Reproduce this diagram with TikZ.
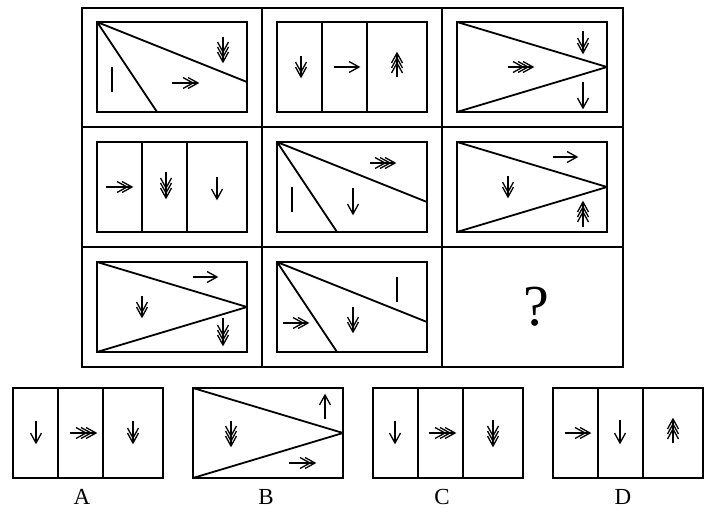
\documentclass[tikz,border=0pt]{standalone}
\usepackage{fontspec}
\setmainfont{Liberation Serif}
\begin{document}
\begin{tikzpicture}[x=1pt,y=-1pt,
  box/.style={line width=1.8pt},
  grd/.style={line width=1.8pt},
  arw/.style={line width=1.3pt,line join=miter},
  lbl/.style={font=\fontsize{23}{23}\selectfont,anchor=base,inner sep=0pt}]
\useasboundingbox (0,0) rectangle (725,508);
\newcommand\ARh[4]{%
  \draw[arw] (#1,#3) -- (#2,#3);
  \foreach \k in {1,...,#4}{\draw[arw] ({#2-(\k-1)*5-10},{#3-5.5}) -- ({#2-(\k-1)*5},#3) -- ({#2-(\k-1)*5-10},{#3+5.5});}}
\newcommand\ARv[4]{%
  \pgfmathsetmacro\sg{ifthenelse(#3>#2,1,-1)}%
  \draw[arw] (#1,#2) -- (#1,#3);
  \foreach \k in {1,...,#4}{\draw[arw] ({#1-5.5},{#3-\sg*((\k-1)*5+10)}) -- (#1,{#3-\sg*(\k-1)*5}) -- ({#1+5.5},{#3-\sg*((\k-1)*5+10)});}}
\newcommand\BAR[3]{\draw[arw] (#1,#2) -- (#1,#3);}
\newcommand\FAN[2]{\draw[box] (#1,#2) rectangle ++(150,90);
  \draw[box] (#1,#2) -- ({#1+150},{#2+60}) (#1,#2) -- ({#1+60},{#2+90});}
\newcommand\TRI[2]{\draw[box] (#1,#2) rectangle ++(150,90);
  \draw[box] (#1,#2) -- ({#1+150},{#2+45}) (#1,{#2+90}) -- ({#1+150},{#2+45});}
\newcommand\STR[2]{\draw[box] (#1,#2) rectangle ++(150,90);
  \draw[box] ({#1+45},#2) -- ({#1+45},{#2+90}) ({#1+90},#2) -- ({#1+90},{#2+90});}
% grid
\draw[grd] (82,8) rectangle (623,367);
\draw[grd] (262,8) -- (262,367) (442,8) -- (442,367) (82,127) -- (623,127) (82,247) -- (623,247);
% row 1
\FAN{97}{22}
\BAR{112}{67}{92}
\ARh{172}{198}{83}{2}
\ARv{223}{37}{62}{3}
\STR{277}{22}
\ARv{301}{56}{77}{2}
\ARh{334}{359}{67}{1}
\ARv{397}{77}{53}{3}
\TRI{457}{22}
\ARv{583}{31}{53}{2}
\ARh{508}{533}{67}{3}
\ARv{583}{82}{108}{1}
% row 2
\STR{97}{142}
\ARh{106}{132}{187}{2}
\ARv{166}{172}{198}{3}
\ARv{217}{177}{199}{1}
\FAN{277}{142}
\ARh{370}{395}{163}{3}
\BAR{292}{187}{212}
\ARv{353}{188}{214}{1}
\TRI{457}{142}
\ARh{553}{577}{157}{1}
\ARv{508}{176}{197}{2}
\ARv{583}{227}{202}{3}
% row 3
\TRI{97}{262}
\ARh{193}{217}{277}{1}
\ARv{142}{296}{317}{2}
\ARv{223}{318}{345}{3}
\FAN{277}{262}
\BAR{397}{277}{302}
\ARh{283}{308}{323}{2}
\ARv{353}{307}{332}{2}
\node[font=\fontsize{58}{58}\selectfont,anchor=base,inner sep=0pt] (q) at (536,325) {?};
% options
\STR{13}{388}
\ARv{36}{421}{443}{1}
\ARh{70}{96}{433}{3}
\ARv{133}{421}{443}{2}
\TRI{193}{388}
\ARv{325}{419}{395}{1}
\ARv{231}{421}{446}{3}
\ARh{289}{315}{463}{2}
\STR{373}{388}
\ARv{395}{421}{443}{1}
\ARh{429}{455}{433}{3}
\ARv{493}{420}{446}{3}
\STR{553}{388}
\ARh{565}{590}{433}{2}
\ARv{620}{420}{443}{1}
\ARv{673}{443}{419}{3}
\node[lbl] (la) at (82,504) {A};
\node[lbl] (lb) at (266,504) {B};
\node[lbl] (lc) at (442,504) {C};
\node[lbl] (ld) at (623,504) {D};
\end{tikzpicture}
\end{document}
